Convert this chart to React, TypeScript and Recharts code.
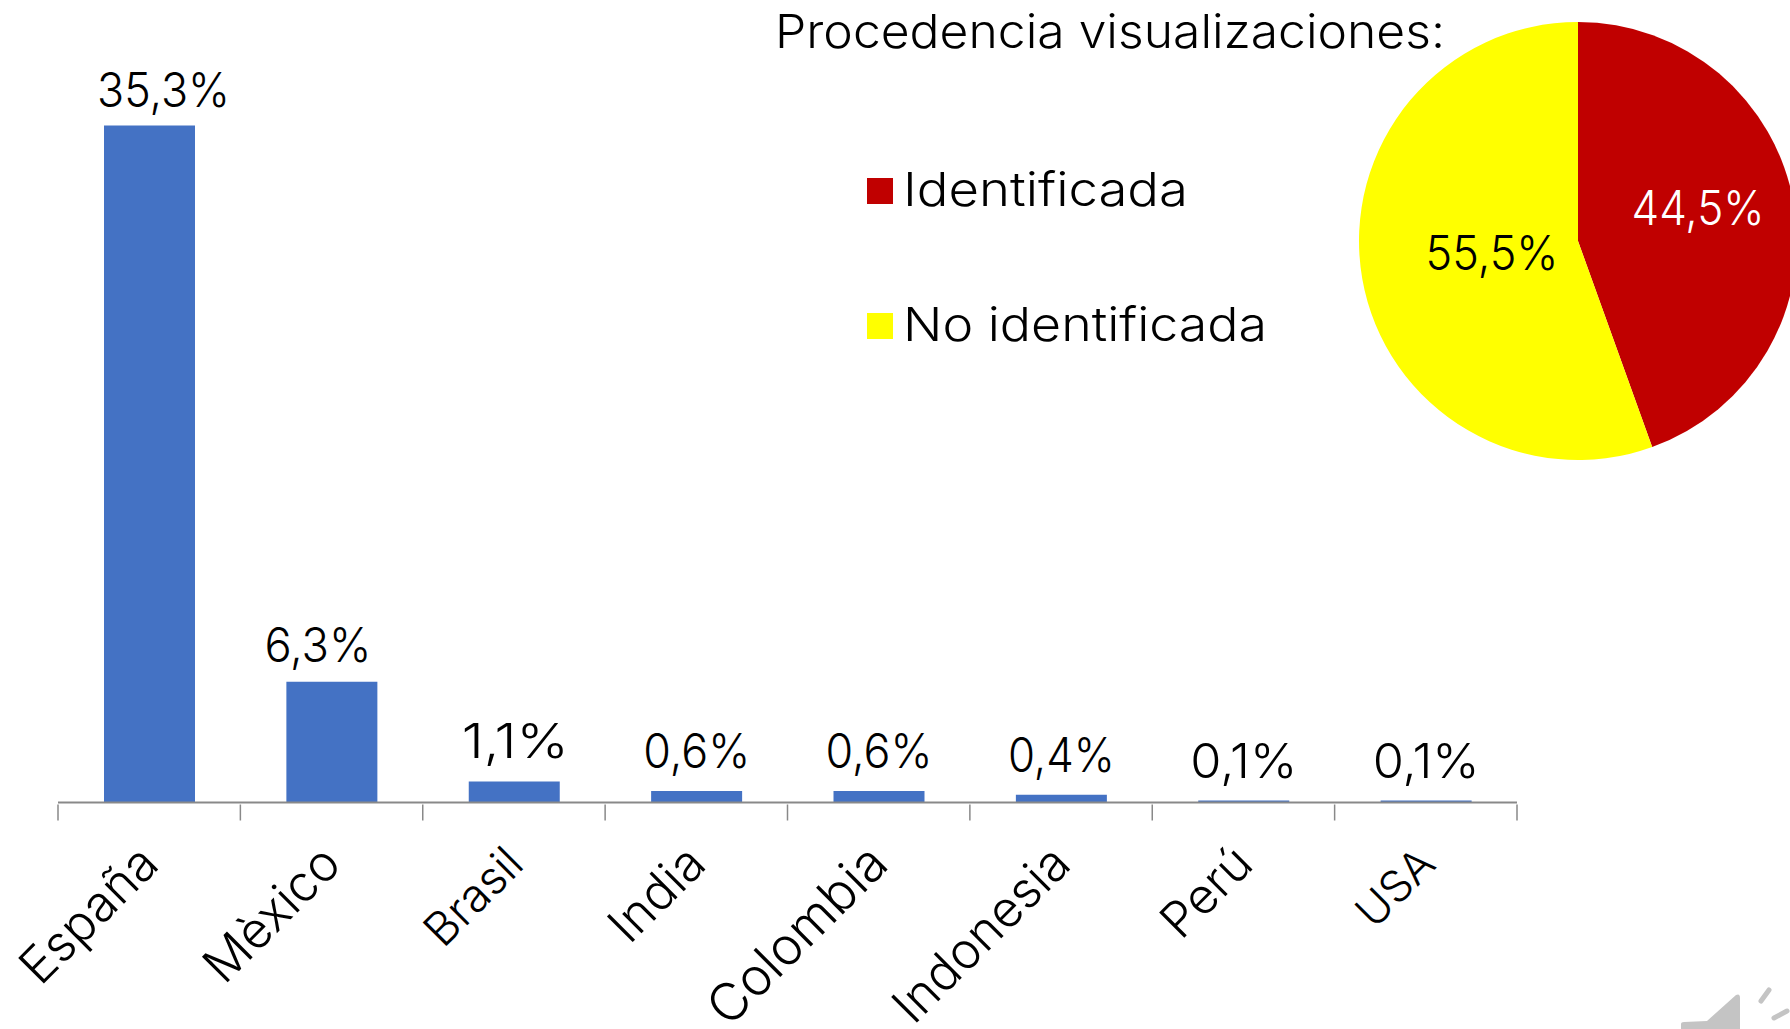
import { BarChart, Bar, XAxis, YAxis, LabelList, PieChart, Pie, Cell, Legend } from "recharts";

const countries = ["España", "Mèxico", "Brasil", "India", "Colombia", "Indonesia", "Perú", "USA"];
const shares = [35.3, 6.3, 1.1, 0.6, 0.6, 0.4, 0.1, 0.1];
const originNames = ["Identificada", "No identificada"];
const originShares = [44.5, 55.5];
const originColors = ["#C00000", "#FFFF00"];

const barData = countries.map((name, i) => ({ name, share: shares[i] }));
const pieData = originNames.map((name, i) => ({ name, value: originShares[i] }));

const WIDTH = 1790;
const HEIGHT = 1029;
const BAND = (1517 - 58) / countries.length;
const FONT = "Inter, Lato, sans-serif";
const textStyle = { fontVariantLigatures: "none" as const };

const pct = (v: number) => `${v.toFixed(1).replace(".", ",")}%`;
// widths taken from the original, the font there is wider and lighter
const pctWidth = (v: number) => (v >= 10 ? 133 : 107);

// the first labels sit off-centre in the original
const labelShift = [14, -14, 1, 0, 0, 0, 0, 0];
const labelLift = [19, 20, 23, 23, 23, 23, 23, 23];
const tickFontSize = [50, 50, 46, 50, 52, 50, 49, 44];

function BarValue(props: any) {
  const { x, y, width, value, index } = props;
  return (
    <text
      x={x + width / 2 + labelShift[index]}
      y={y - labelLift[index]}
      textAnchor="middle"
      fontFamily={FONT}
      fontSize={48}
      fontWeight={300}
      fill="#000"
      style={textStyle}
      textLength={pctWidth(value)}
      lengthAdjust="spacingAndGlyphs"
    >
      {pct(value)}
    </text>
  );
}

function CountryTick(props: any) {
  const { x, y, payload, index } = props;
  const top = y - 16;
  return (
    <g>
      <line x1={x - BAND / 2} x2={x - BAND / 2} y1={top} y2={top + 16} stroke="#898989" strokeWidth={1.5} />
      {index === countries.length - 1 && (
        <line x1={x + BAND / 2} x2={x + BAND / 2} y1={top} y2={top + 16} stroke="#898989" strokeWidth={1.5} />
      )}
      <text
        x={x + 12}
        y={y + 46}
        textAnchor="end"
        fontFamily={FONT}
        fontSize={tickFontSize[index]}
        fontWeight={300}
        fill="#000"
        style={textStyle}
        transform={`rotate(-45 ${x + 12} ${y + 46})`}
      >
        {payload.value}
      </text>
    </g>
  );
}

const pieLabelPos = [
  { dx: 120, dy: -16, fill: "#fff" },
  { dx: -86, dy: 29, fill: "#000" },
];

function PieValue(props: any) {
  const { cx, cy, index, value } = props;
  const p = pieLabelPos[index];
  return (
    <text
      x={cx + p.dx}
      y={cy + p.dy}
      textAnchor="middle"
      fontFamily={FONT}
      fontSize={48}
      fontWeight={300}
      fill={p.fill}
      style={textStyle}
      textLength={133}
      lengthAdjust="spacingAndGlyphs"
    >
      {pct(value)}
    </text>
  );
}

const legendWidths = [285, 364];

function OriginLegend() {
  return (
    <svg width={420} height={240} style={{ display: "block", overflow: "visible" }}>
      {originNames.map((name, i) => (
        <g key={name}>
          <rect x={0} y={40 + i * 135} width={26} height={26} fill={originColors[i]} />
          <text
            x={36}
            y={40 + i * 135 + 28}
            fontFamily={FONT}
            fontSize={47}
            fontWeight={300}
            fill="#000"
            style={textStyle}
            textLength={legendWidths[i]}
            lengthAdjust="spacingAndGlyphs"
          >
            {name}
          </text>
        </g>
      ))}
    </svg>
  );
}

export default function App() {
  return (
    <div style={{ position: "absolute", left: 0, top: 0, width: WIDTH, height: HEIGHT, overflow: "hidden", background: "#fff" }}>
      <div style={{ position: "absolute", left: 0, top: 0 }}>
        <BarChart
          width={WIDTH}
          height={HEIGHT}
          data={barData}
          margin={{ top: 35.5, right: 273, bottom: 0, left: 58 }}
        >
          <XAxis
            dataKey="name"
            height={226.5}
            interval={0}
            tickSize={16}
            axisLine={{ stroke: "#898989", strokeWidth: 2 }}
            tickLine={false}
            tick={<CountryTick />}
          />
          <YAxis hide domain={[0, 40]} />
          <Bar dataKey="share" fill="#4472C4" barSize={91} isAnimationActive={false}>
            <LabelList dataKey="share" content={<BarValue />} />
          </Bar>
        </BarChart>
      </div>
      <div style={{ position: "absolute", left: 0, top: 0 }}>
        <PieChart width={WIDTH} height={HEIGHT} margin={{ top: 0, right: 0, bottom: 0, left: 0 }}>
          <Pie
            data={pieData}
            dataKey="value"
            nameKey="name"
            cx={1578}
            cy={241}
            outerRadius={219}
            startAngle={90}
            endAngle={-270}
            stroke="none"
            label={<PieValue />}
            labelLine={false}
            isAnimationActive={false}
          >
            {pieData.map((d, i) => (
              <Cell key={d.name} fill={originColors[i]} />
            ))}
          </Pie>
          <Legend
            content={<OriginLegend />}
            wrapperStyle={{ position: "absolute", left: 867, top: 138, width: "auto", bottom: "auto" }}
          />
          <text
            x={775}
            y={48}
            fontFamily={FONT}
            fontSize={47}
            fontWeight={300}
            fill="#000"
            style={textStyle}
            textLength={670}
            lengthAdjust="spacingAndGlyphs"
          >
            Procedencia visualizaciones:
          </text>
        </PieChart>
      </div>
      <svg width={WIDTH} height={HEIGHT} style={{ position: "absolute", left: 0, top: 0, pointerEvents: "none" }}>
        <path d="M1681 1029 L1681 1024 Q1681 1022 1684 1022 L1707 1021 L1736 995 Q1740 993 1740 998 L1740 1029 Z" fill="#c4c4c4" />
        <path d="M1761 1001 L1769 990" stroke="#c4c4c4" strokeWidth={5} strokeLinecap="round" />
        <path d="M1774 1018 L1787 1011" stroke="#c4c4c4" strokeWidth={5} strokeLinecap="round" />
      </svg>
    </div>
  );
}
